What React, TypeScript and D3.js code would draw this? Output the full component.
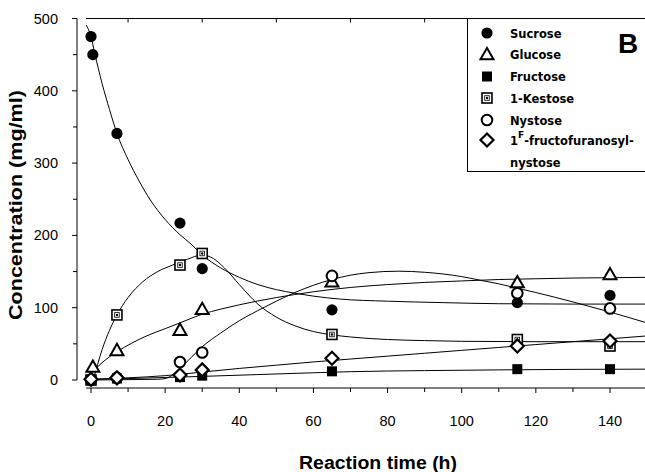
import React from 'react';
import * as d3 from 'd3';

// sampling times (h) and measured concentrations (mg/ml)
const times = [0, 0.5, 7, 24, 30, 65, 115, 140];
const sucrose = [475, 450, 341, 217, 154, 97, 107, 117];
const glucose = [null, 18, 41, 69, 98, 136, 135, 146];
const fructose = [0, null, 2, 4, 6, 12, 15, 15];
const kestose = [0, null, 90, 159, 175, 63, 56, 47];
const nystose = [0, null, 3, 25, 38, 144, 120, 99];
const gf4 = [1, null, 3, 7, 14, 30, 47, 54];

// fitted curves
const sucroseFitT = [-1.3, 0, 1, 3, 5, 7, 10, 13, 16, 20, 24, 27, 30, 35, 40, 45, 50, 55, 60, 67, 80, 95, 110, 130, 150];
const sucroseFitV = [491, 475, 452, 410, 374, 341, 305, 275, 249, 222, 201, 188, 173, 155, 142, 132, 125, 120, 116, 112, 109, 107, 105.5, 105, 105];
const glucoseFitT = [0.2, 3, 7, 11, 15, 20, 24, 30, 35, 40, 50, 60, 70, 80, 90, 100, 110, 120, 130, 140, 150];
const glucoseFitV = [10, 24, 39, 51, 61, 71, 79, 91, 98, 104, 114, 122, 128, 132, 135, 137, 139, 140, 141, 141.5, 142];
const fructoseFitT = [0, 10, 20, 30, 45, 60, 70, 90, 110, 130, 150];
const fructoseFitV = [1, 2, 3.5, 5, 7.5, 10, 11.5, 13, 14, 14.7, 15];
const kestoseFitT = [0.6, 3, 7, 10, 14, 18, 22, 26, 30, 33, 36, 40, 45, 50, 55, 60, 65, 70, 80, 90, 100, 120, 150];
const kestoseFitV = [0, 42, 90, 114, 136, 150, 159, 167, 173, 168, 155, 132, 105, 87, 75, 67, 62.5, 59.5, 56, 54.5, 53.5, 53, 53];
const nystoseFitT = [0, 10, 18, 20, 22, 24, 27, 30, 35, 40, 45, 50, 55, 60, 65, 70, 75, 83, 90, 100, 105, 110, 115, 120, 130, 140, 150];
const nystoseFitV = [0, 0.5, 1, 2, 7, 16, 31, 46, 65, 82, 96, 109, 121, 131, 139, 145, 148.5, 150.5, 149, 143, 138, 133, 127, 121, 108, 94, 79];
const gf4FitT = [0, 10, 20, 30, 40, 50, 60, 70, 80, 90, 100, 110, 120, 130, 140, 150];
const gf4FitV = [1, 3, 6, 11, 16, 20.5, 25, 29, 33, 37, 41, 45, 49, 53, 57, 61];

const xTicks = [0, 20, 40, 60, 80, 100, 120, 140];
const xMinor = [10, 30, 50, 70, 90, 110, 130, 150];
const yTicks = [0, 100, 200, 300, 400, 500];
const yMinor = [50, 150, 250, 350, 450];

const series = [
    { name: 'Sucrose', marker: 'fcircle', values: sucrose, fitT: sucroseFitT, fitV: sucroseFitV },
    { name: 'Glucose', marker: 'triangle', values: glucose, fitT: glucoseFitT, fitV: glucoseFitV },
    { name: 'Fructose', marker: 'fsquare', values: fructose, fitT: fructoseFitT, fitV: fructoseFitV },
    { name: '1-Kestose', marker: 'dsquare', values: kestose, fitT: kestoseFitT, fitV: kestoseFitV },
    { name: 'Nystose', marker: 'ocircle', values: nystose, fitT: nystoseFitT, fitV: nystoseFitV },
    { name: 'GF4', marker: 'diamond', values: gf4, fitT: gf4FitT, fitV: gf4FitV },
];

const W = 645, H = 472;
const font = 'Arial, "Liberation Sans", sans-serif';
const narrow = '"Liberation Sans Narrow", "Arial Narrow", Arial, sans-serif';
const legendFont = 'Tahoma, "DejaVu Sans", Verdana, sans-serif';

const Marker = ({ type, x, y }: { type: string; x: number; y: number }) => {
    switch (type) {
        case 'fcircle':
            return <circle cx={x} cy={y} r={5.6} fill="black" />;
        case 'ocircle':
            return <circle cx={x} cy={y} r={5.3} fill="white" stroke="black" strokeWidth={2} />;
        case 'triangle':
            return <path d={`M${x},${y - 6.5}L${x + 6.5},${y + 4.8}L${x - 6.5},${y + 4.8}Z`} fill="white" stroke="black" strokeWidth={2} />;
        case 'fsquare':
            return <rect x={x - 5} y={y - 5} width={10} height={10} fill="black" />;
        case 'dsquare':
            return (
                <g>
                    <rect x={x - 5} y={y - 5} width={10} height={10} fill="white" stroke="black" strokeWidth={1.6} />
                    <rect x={x - 2.3} y={y - 2.3} width={4.6} height={4.6} fill="white" stroke="black" strokeWidth={0.8} />
                    <circle cx={x} cy={y} r={1.2} fill="black" />
                </g>
            );
        case 'diamond':
            return <path d={`M${x},${y - 6.5}L${x + 6.5},${y}L${x},${y + 6.5}L${x - 6.5},${y}Z`} fill="white" stroke="black" strokeWidth={2.2} />;
        default:
            return null;
    }
};

const App = () => {
    const x = d3.scaleLinear().domain([0, 140]).range([91, 610]);
    const y = d3.scaleLinear().domain([0, 500]).range([380, 18.5]);
    const line = d3.line<[number, number]>()
        .x(d => x(d[0]))
        .y(d => y(d[1]))
        .curve(d3.curveMonotoneX);

    const xAxisY = 388;
    const yAxisX = 77;
    const legendRows = [33, 54.5, 76.5, 98, 120, 140];

    return (
        <div style={{ position: 'fixed', left: 0, top: 0 }}>
            <svg width={W} height={H} viewBox={`0 0 ${W} ${H}`} style={{ display: 'block', background: 'white' }}>
                <defs>
                    <clipPath id="plot">
                        <rect x={yAxisX} y={0} width={W - yAxisX} height={xAxisY} />
                    </clipPath>
                </defs>

                {/* top frame line with its own ticks */}
                <line x1={86} x2={W} y1={18.5} y2={18.5} stroke="black" strokeWidth={1} />
                {xMinor.map(t => (
                    <line key={'tt' + t} x1={x(t)} x2={x(t)} y1={18.5} y2={22.5} stroke="black" />
                ))}

                {/* y axis */}
                <line x1={yAxisX} x2={yAxisX} y1={y(500)} y2={y(0)} stroke="black" />
                {yTicks.map(v => (
                    <g key={'yt' + v}>
                        <line x1={yAxisX - 5} x2={yAxisX} y1={y(v)} y2={y(v)} stroke="black" />
                        <text x={58} y={y(v) + 5} textAnchor="end" fontFamily={narrow} fontSize={14.5}>{v}</text>
                    </g>
                ))}
                {yMinor.map(v => (
                    <line key={'ym' + v} x1={yAxisX - 4} x2={yAxisX} y1={y(v)} y2={y(v)} stroke="black" />
                ))}
                <text transform={`translate(22,${y(242)}) rotate(-90)`} textAnchor="middle" fontFamily={font}
                    fontWeight="bold" fontSize={18} textLength={230} lengthAdjust="spacingAndGlyphs">Concentration (mg/ml)</text>

                {/* x axis */}
                <line x1={86} x2={W} y1={xAxisY} y2={xAxisY} stroke="black" />
                {xTicks.map(t => (
                    <g key={'xt' + t}>
                        <line x1={x(t)} x2={x(t)} y1={xAxisY} y2={xAxisY + 5} stroke="black" />
                        <text x={x(t)} y={426} textAnchor="middle" fontFamily={narrow} fontSize={14.5}>{t}</text>
                    </g>
                ))}
                {xMinor.map(t => (
                    <line key={'xm' + t} x1={x(t)} x2={x(t)} y1={xAxisY} y2={xAxisY + 4} stroke="black" />
                ))}
                <text x={378} y={469} textAnchor="middle" fontFamily={font} fontWeight="bold" fontSize={18}
                    textLength={158} lengthAdjust="spacingAndGlyphs">Reaction time (h)</text>

                {/* fitted curves */}
                <g clipPath="url(#plot)">
                    {series.map(s => (
                        <path key={'fit' + s.name}
                            d={line(s.fitT.map((t, i) => [t, s.fitV[i]] as [number, number])) || ''}
                            fill="none" stroke="black" strokeWidth={1} />
                    ))}
                </g>

                {/* data points */}
                {series.map(s => (
                    <g key={'pts' + s.name}>
                        {s.values.map((v, i) => v == null ? null :
                            <Marker key={i} type={s.marker} x={x(times[i])} y={y(v)} />)}
                    </g>
                ))}

                {/* legend */}
                <rect x={467.5} y={18.5} width={W} height={153} fill="white" stroke="black" strokeWidth={1} />
                {series.map((s, i) => (
                    <g key={'lg' + s.name}>
                        <Marker type={s.marker} x={487} y={legendRows[i]} />
                        {i < 5 ? (
                            <text x={510} y={legendRows[i] + 4.5} fontFamily={legendFont} fontWeight="bold" fontSize={11.5}>{s.name}</text>
                        ) : (
                            <text x={510} y={legendRows[i] + 4.5} fontFamily={legendFont} fontWeight="bold" fontSize={11.5}>
                                1<tspan dy={-7} fontSize={9}>F</tspan><tspan dy={7}>-fructofuranosyl-</tspan>
                            </text>
                        )}
                    </g>
                ))}
                <text x={510} y={167} fontFamily={legendFont} fontWeight="bold" fontSize={11.5}>nystose</text>
                <text x={628} y={53} textAnchor="middle" fontFamily={font} fontWeight="bold" fontSize={28}>B</text>
            </svg>
        </div>
    );
};

export default App;
